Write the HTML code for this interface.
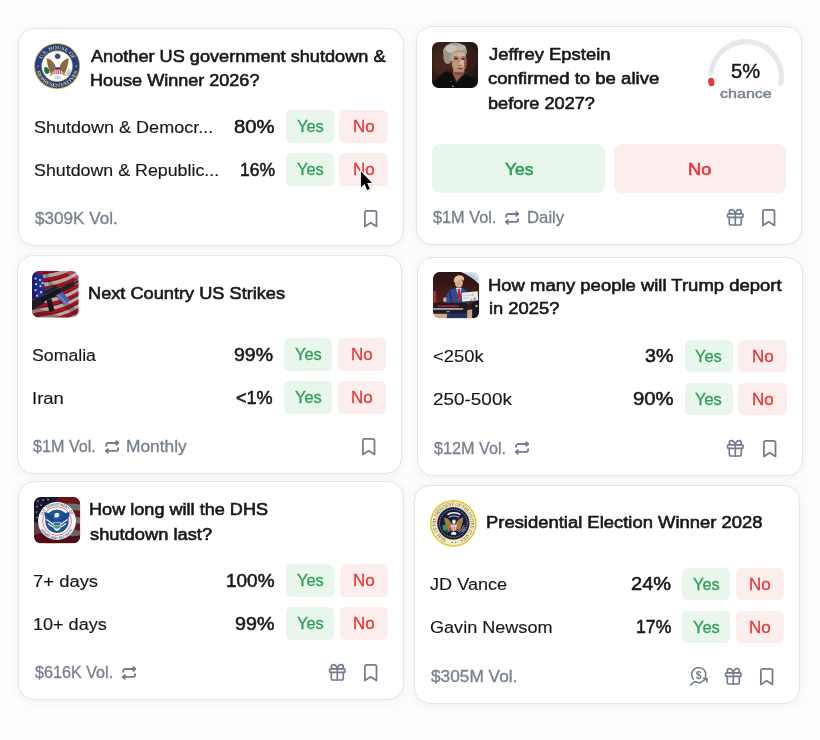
<!DOCTYPE html>
<html lang="en"><head><meta charset="utf-8"><title>Markets</title>
<style>
html,body{margin:0;padding:0}
body{width:820px;height:740px;background:#fdfdfd;position:relative;overflow:hidden;font-family:"Liberation Sans", sans-serif;}
.tile{position:absolute;background:#fcfcfc;overflow:hidden}
.card{position:absolute;box-sizing:border-box;width:385px;height:218px;background:#fff;border:1px solid #e3e6e9;border-radius:16px;box-shadow:0 1px 7px 1px rgba(16,24,40,.045)}
.btn{position:absolute;border-radius:5.500px}
.by{background:#e8f6ec}
.bn{background:#fdeeee}
.big{border-radius:8px}
.ic{position:absolute;overflow:visible}
.t{position:absolute;display:block;transform-origin:0 0;white-space:nowrap;line-height:20px;font-family:"Liberation Sans", sans-serif;}
.title{font-size:17.3px;font-weight:400;color:#17181c;-webkit-text-stroke:0.62px #17181c;}
.label{font-size:17.3px;font-weight:400;color:#17181c;-webkit-text-stroke:0.15px #17181c;}
.pct{font-size:18.6px;font-weight:400;color:#17181c;-webkit-text-stroke:0.55px #17181c;}
.foot{font-size:15.7px;font-weight:400;color:#77808d;-webkit-text-stroke:0.3px #77808d;}
.yes{font-size:15.9px;font-weight:400;color:#2f9e57;-webkit-text-stroke:0.3px #2f9e57;}
.no{font-size:15.7px;font-weight:400;color:#e23939;-webkit-text-stroke:0.3px #e23939;}
.byes{font-size:16.8px;font-weight:400;color:#2f9e57;-webkit-text-stroke:0.6px #2f9e57;}
.bno{font-size:16.8px;font-weight:400;color:#e23939;-webkit-text-stroke:0.6px #e23939;}
.g5{font-size:19.8px;font-weight:400;color:#17181c;-webkit-text-stroke:0.45px #17181c;}
.chance{font-size:13.6px;font-weight:400;color:#77808d;-webkit-text-stroke:0.45px #77808d;}

</style></head><body>

<div class="tile" style="left:12px;top:21px;width:796px;height:688px">
<div class="card" style="left:6px;top:7px;width:386px;height:218px"></div>
<div class="card" style="left:404px;top:5px;width:386px;height:219px"></div>
<div class="card" style="left:5px;top:234px;width:385px;height:219px"></div>
<div class="card" style="left:405px;top:236px;width:386px;height:219px"></div>
<div class="card" style="left:6px;top:460px;width:386px;height:219px"></div>
<div class="card" style="left:402px;top:464px;width:386px;height:219px"></div>
</div>
<div class="btn by" style="left:285.95px;top:110.30px;width:48.20px;height:32.50px"></div>
<div class="btn bn" style="left:339.25px;top:110.30px;width:48.70px;height:32.50px"></div>
<div class="btn by" style="left:285.95px;top:153.00px;width:48.20px;height:32.50px"></div>
<div class="btn bn" style="left:339.25px;top:153.00px;width:48.70px;height:32.50px"></div>
<div class="btn by" style="left:284.20px;top:338.30px;width:48.20px;height:32.50px"></div>
<div class="btn bn" style="left:337.50px;top:338.30px;width:48.70px;height:32.50px"></div>
<div class="btn by" style="left:284.20px;top:381.00px;width:48.20px;height:32.50px"></div>
<div class="btn bn" style="left:337.50px;top:381.00px;width:48.70px;height:32.50px"></div>
<div class="btn by" style="left:684.70px;top:339.80px;width:48.20px;height:32.50px"></div>
<div class="btn bn" style="left:738.00px;top:339.80px;width:48.70px;height:32.50px"></div>
<div class="btn by" style="left:684.70px;top:382.50px;width:48.20px;height:32.50px"></div>
<div class="btn bn" style="left:738.00px;top:382.50px;width:48.70px;height:32.50px"></div>
<div class="btn by" style="left:286.20px;top:564.30px;width:48.20px;height:32.50px"></div>
<div class="btn bn" style="left:339.50px;top:564.30px;width:48.70px;height:32.50px"></div>
<div class="btn by" style="left:286.20px;top:607.00px;width:48.20px;height:32.50px"></div>
<div class="btn bn" style="left:339.50px;top:607.00px;width:48.70px;height:32.50px"></div>
<div class="btn by" style="left:682.20px;top:567.80px;width:48.20px;height:32.50px"></div>
<div class="btn bn" style="left:735.50px;top:567.80px;width:48.70px;height:32.50px"></div>
<div class="btn by" style="left:682.20px;top:610.50px;width:48.20px;height:32.50px"></div>
<div class="btn bn" style="left:735.50px;top:610.50px;width:48.70px;height:32.50px"></div>
<div class="btn by big" style="left:432px;top:144px;width:172.5px;height:49.2px"></div>
<div class="btn bn big" style="left:614px;top:144px;width:172.2px;height:49.2px"></div>
<svg class="ic" style="left:33.9px;top:42.9px" width="46.2" height="46.2" viewBox="0 0 46 46"><defs><filter id="bl1" x="-5%" y="-5%" width="110%" height="110%"><feGaussianBlur stdDeviation="0.3"/></filter></defs><g filter="url(#bl1)"><circle cx="23" cy="23" r="23" fill="#dcc04a"/><circle cx="23" cy="23" r="22.1" fill="#22408a"/><circle cx="23" cy="23" r="15.6" fill="#d9c25a"/><circle cx="23" cy="23" r="14.9" fill="#fdfcf8"/><path id="hs_t" d="M7.33 16.67A16.9 16.9 0 0 1 38.67 16.67" fill="none"/><path id="hs_b" d="M2.56 27.35A20.9 20.9 0 0 0 43.44 27.35" fill="none"/><text font-family="Liberation Serif, serif" font-weight="700" font-size="5" fill="#dccb78"><textPath href="#hs_t" startOffset="50%" text-anchor="middle" textLength="39" lengthAdjust="spacingAndGlyphs">U.S. HOUSE OF</textPath></text><text font-family="Liberation Serif, serif" font-weight="700" font-size="5" fill="#dccb78"><textPath href="#hs_b" startOffset="50%" text-anchor="middle" textLength="55" lengthAdjust="spacingAndGlyphs">REPRESENTATIVES</textPath></text><circle cx="3.900" cy="23" r="0.7" fill="#ecd97a"/><circle cx="42.100" cy="23" r="0.7" fill="#ecd97a"/><path d="M21.40 22.60C18.60 17.60 14.60 15.10 12.60 15.60C13.10 20.60 14.10 25.60 17.10 31.10C18.60 29.60 20.10 27.60 21.10 26.60Z" fill="#8a6b3e"/><path d="M25.80 22.60C28.60 17.60 32.60 15.10 34.60 15.60C34.10 20.60 33.10 25.60 30.10 31.10C28.60 29.60 27.10 27.60 26.10 26.60Z" fill="#8a6b3e"/><path d="M20.60 29.60L15.60 32.60M26.60 29.60L31.60 32.60" stroke="#b08d4a" stroke-width="1.10" fill="none"/><ellipse cx="23.80" cy="20.40" rx="2.00" ry="2.60" fill="#f4f1ea"/><circle cx="23.500" cy="13.300" r="3.100" fill="#d9c25a"/><circle cx="23.500" cy="13.300" r="2.500" fill="#2b4a9a"/><path d="M20.30 24.20h6.60v4.07q0 2.59 -3.30 3.33q-3.30 -0.74 -3.30 -3.33z" fill="#f6d5da"/><rect x="20.30" y="26.27" width="0.94" height="4.59" fill="#d8485a"/><rect x="22.19" y="26.27" width="0.94" height="4.59" fill="#d8485a"/><rect x="24.07" y="26.27" width="0.94" height="4.59" fill="#d8485a"/><rect x="25.96" y="26.27" width="0.94" height="4.59" fill="#d8485a"/><rect x="20.30" y="24.20" width="6.60" height="2.22" fill="#2a3f8f"/><path d="M10.200 24.500c1.500-1 3-.5 3.600 1 1 .2 1.600 1.200 1.200 2.400.6 1 .2 2.200-.9 2.600-1.500.8-3-.2-3.200-1.500-1-.8-1.200-2-.4-2.800-.6-.6-.6-1.300-.3-1.700z" fill="#1f6e3d"/><path d="M31.500 31.500l4-6M32.500 32.200l4.200-5.200M33.600 32.500l3.200-3.600" stroke="#9aa1ab" stroke-width="0.9" fill="none"/><ellipse cx="23.600" cy="34.300" rx="3.300" ry="1.700" fill="#c5d6ee"/></g></svg>
<svg class="ic" style="left:432px;top:42.1px" width="46" height="46" viewBox="0 0 46 46"><defs><filter id="bl2" x="-5%" y="-5%" width="110%" height="110%"><feGaussianBlur stdDeviation="0.75"/></filter><radialGradient id="pg2" cx="35%" cy="40%" r="85%"><stop offset="0" stop-color="#472a1e"/><stop offset=".6" stop-color="#2e1b14"/><stop offset="1" stop-color="#1b100c"/></radialGradient><clipPath id="cp2"><rect x="0" y="0" width="46" height="46" rx="6.500"/></clipPath></defs><g clip-path="url(#cp2)"><g filter="url(#bl2)"><rect x="-2" y="-2" width="50" height="50" fill="url(#pg2)"/><ellipse cx="8" cy="22" rx="7" ry="10" fill="#4a2a1e" opacity=".6"/><ellipse cx="40" cy="16" rx="6" ry="9" fill="#3d2219" opacity=".6"/><path d="M-2 48V43L11 31C15 28.500 19 29.500 21 33L24.500 40.500L31.500 32.500C37 33 43 35.500 48 39V48Z" fill="#0f0b0a"/><path d="M21 27L33 29L31.500 33L24.500 40.500L21 33Z" fill="#94654f"/><ellipse cx="23" cy="9.500" rx="12" ry="9" fill="#a39a91"/><ellipse cx="15.800" cy="14.500" rx="4.500" ry="7.500" fill="#9d948b"/><ellipse cx="19.500" cy="6.800" rx="6" ry="4" fill="#c9c2b8"/><ellipse cx="29" cy="5.500" rx="5" ry="3" fill="#bdb5ab"/><path d="M19.500 15C19.500 10 23 8.500 27.500 9C32 9.500 34.500 12.500 34.200 17C34 21 34 23.500 33 26.500C32 30 29.500 32 26.500 31.500C23 31 20.500 27.500 19.800 22.500Z" fill="#bb8b73"/><ellipse cx="27.500" cy="12.800" rx="5.500" ry="2.800" fill="#d8ae94"/><ellipse cx="30" cy="21.500" rx="2.600" ry="3.800" fill="#dcb49b"/><ellipse cx="23.500" cy="22" rx="2.500" ry="3.500" fill="#c4957c"/><ellipse cx="33.300" cy="21" rx="1.500" ry="6" fill="#8a5d49" opacity=".8"/><path d="M18.500 19C17.500 14 19 10 23.500 8.500C22 11 21.500 14 21.200 18Z" fill="#b0a79d"/><ellipse cx="24" cy="16.500" rx="2.100" ry="0.9" fill="#3b2a22"/><ellipse cx="31" cy="16.800" rx="1.800" ry="0.85" fill="#3b2a22"/><path d="M21.800 14.800c1.500-.8 3-.8 4.500-.2M29.300 15c1.200-.5 2.400-.4 3.500.2" stroke="#6b5a4e" stroke-width="0.7" fill="none"/><ellipse cx="28.300" cy="26.600" rx="2.700" ry="0.65" fill="#6a3e33"/><ellipse cx="29" cy="23.300" rx="1.500" ry="0.6" fill="#8a5a48" opacity=".8"/><ellipse cx="27" cy="31.300" rx="5" ry="1.600" fill="#6f4838" opacity=".8"/><path d="M20.500 32.500l4 8 3-3.500M31.500 33L27.500 37" stroke="#2b2220" stroke-width="1.300" fill="none"/><circle cx="20.800" cy="44.300" r="0.8" fill="#cfc9bf"/><circle cx="18.900" cy="39.300" r="0.55" fill="#8fae8a"/></g></g></svg>
<svg class="ic" style="left:32px;top:271px" width="46.5" height="46.5" viewBox="0 0 46 46"><defs><filter id="bl3" x="-5%" y="-5%" width="110%" height="110%"><feGaussianBlur stdDeviation="0.6"/></filter><clipPath id="cp3"><rect x="0" y="0" width="46" height="46" rx="6.500"/></clipPath></defs><g clip-path="url(#cp3)"><g filter="url(#bl3)"><rect x="-2" y="-2" width="50" height="50" fill="#d2cac8"/><path d="M-2 2.0C10 -3.0 24 1.0 48 -14.0v4.400C24 5.4 10 1.4 -2 6.4Z" fill="#bd1829"/><path d="M-2 5.4C10 0.4 24 4.4 48 -10.6v1.200C24 5.6 10 1.6 -2 6.6Z" fill="#5a0d16" opacity=".55"/><path d="M-2 10.2C10 5.2 24 9.2 48 -5.8v4.400C24 13.6 10 9.6 -2 14.6Z" fill="#bd1829"/><path d="M-2 13.6C10 8.6 24 12.6 48 -2.4v1.200C24 13.8 10 9.8 -2 14.8Z" fill="#5a0d16" opacity=".55"/><path d="M-2 18.4C10 13.4 24 17.4 48 2.4v4.400C24 21.8 10 17.8 -2 22.8Z" fill="#bd1829"/><path d="M-2 21.8C10 16.8 24 20.8 48 5.8v1.200C24 22.0 10 18.0 -2 23.0Z" fill="#5a0d16" opacity=".55"/><path d="M-2 26.6C10 21.6 24 25.6 48 10.6v4.400C24 30.0 10 26.0 -2 31.0Z" fill="#bd1829"/><path d="M-2 30.0C10 25.0 24 29.0 48 14.0v1.200C24 30.2 10 26.2 -2 31.2Z" fill="#5a0d16" opacity=".55"/><path d="M-2 34.8C10 29.8 24 33.8 48 18.8v4.400C24 38.2 10 34.2 -2 39.2Z" fill="#bd1829"/><path d="M-2 38.2C10 33.2 24 37.2 48 22.2v1.200C24 38.4 10 34.4 -2 39.4Z" fill="#5a0d16" opacity=".55"/><path d="M-2 43.0C10 38.0 24 42.0 48 27.0v4.400C24 46.4 10 42.4 -2 47.4Z" fill="#bd1829"/><path d="M-2 46.4C10 41.4 24 45.4 48 30.4v1.200C24 46.6 10 42.6 -2 47.6Z" fill="#5a0d16" opacity=".55"/><path d="M-2 51.2C10 46.2 24 50.2 48 35.2v4.400C24 54.6 10 50.6 -2 55.6Z" fill="#bd1829"/><path d="M-2 54.6C10 49.6 24 53.6 48 38.6v1.200C24 54.8 10 50.8 -2 55.8Z" fill="#5a0d16" opacity=".55"/><path d="M-2 59.4C10 54.4 24 58.4 48 43.4v4.400C24 62.8 10 58.8 -2 63.8Z" fill="#bd1829"/><path d="M-2 62.8C10 57.8 24 61.8 48 46.8v1.200C24 63.0 10 59.0 -2 64.0Z" fill="#5a0d16" opacity=".55"/><path d="M14 -2C18 10 30 30 48 40V48C28 36 16 16 10 -2Z" fill="#3a0d12" opacity=".28"/><path d="M-2 34C10 38 24 44 40 48H-2Z" fill="#5a1016" opacity=".35"/><path d="M30 -2C36 4 42 8 48 10V-2Z" fill="#fff" opacity=".25"/><path d="M-2 2C3 .5 8 2 11 4.500L13.500 25.500C9 27 4 28 -2 27.500Z" fill="#2436a6"/><path d="M-2 2C1 1.500 3 2 4 3L5 27.500C3 28 0 28 -2 27.500Z" fill="#141d6a" opacity=".6"/><circle cx="3.5" cy="7.5" r="1.150" fill="#dfe6fb"/><circle cx="8" cy="9" r="1.150" fill="#dfe6fb"/><circle cx="4" cy="13" r="1.150" fill="#dfe6fb"/><circle cx="8.5" cy="15" r="1.150" fill="#dfe6fb"/><circle cx="3.5" cy="19" r="1.150" fill="#dfe6fb"/><circle cx="9" cy="21" r="1.150" fill="#dfe6fb"/><circle cx="5" cy="24.5" r="1.150" fill="#dfe6fb"/><circle cx="10.5" cy="12" r="1.150" fill="#dfe6fb"/><rect x="-2" y="-2" width="50" height="50" fill="#1a0508" opacity=".16"/><g transform="translate(23 22) rotate(-27) scale(1.13) translate(-23 -21.500)"><rect x="-6" y="18.500" width="17" height="6.500" rx="1.200" fill="#1b1c22"/><rect x="9" y="18.800" width="20" height="5" rx="1" fill="#17181d"/><rect x="28" y="19.300" width="14" height="4" rx="1.500" fill="#202228"/><rect x="40" y="20.300" width="14" height="1.900" fill="#2a2c33"/><rect x="14" y="15.300" width="13" height="3.600" rx="1.300" fill="#22242b"/><rect x="17" y="14.300" width="7" height="1.600" rx=".8" fill="#3a3d46"/><path d="M13.500 23.500l-2.600 10.500 4.600.8 2.400-10.800z" fill="#16171b"/><path d="M22.500 23.500l3.200 10.500 6-1.100-2.800-9.900z" fill="#4a5cad"/><path d="M23.500 24l3 9.500 2-.4-2.800-9.300z" fill="#6f80c8"/></g></g></g></svg>
<svg class="ic" style="left:432.7px;top:272.4px" width="46.2" height="46.4" viewBox="0 0 46 46"><defs><filter id="bl4" x="-5%" y="-5%" width="110%" height="110%"><feGaussianBlur stdDeviation="0.5"/></filter><linearGradient id="bg4" x1="0" y1="0" x2="0" y2="1"><stop offset="0" stop-color="#2b1413"/><stop offset="1" stop-color="#4a211f"/></linearGradient><clipPath id="cp4"><rect x="0" y="0" width="46" height="46" rx="6.500"/></clipPath></defs><g clip-path="url(#cp4)"><g filter="url(#bl4)"><rect width="46" height="46" fill="#3a1c1a"/><path d="M0 0H46V30H0Z" fill="url(#bg4)"/><path d="M28 0H46V12C41 7 35 3 28 0Z" fill="#d3e0ea"/><path d="M36 2c3 1 6 3 8 6" stroke="#9fb6c8" stroke-width="1.500" fill="none" opacity=".7"/><rect x="0" y="19" width="3.200" height="13" fill="#b3262c"/><path d="M12 31C12.500 22 15 17.500 21 16L30 16C34 17.500 35.500 22 35.500 31V46H14Z" fill="#2f4a8e"/><path d="M16.500 18l2 13" stroke="#1c2c58" stroke-width="1.200" fill="none"/><path d="M23 15.500h5.500l-1.500 6h-2.500z" fill="#eef0f3"/><path d="M24.800 16.500h2l.7 11-1.700 2-1.700-2z" fill="#c9222e"/><ellipse cx="25.800" cy="10.800" rx="4" ry="4.800" fill="#dba98b"/><path d="M20.800 9.500C20.500 5 23.500 3 27 3.200C30.200 3.400 31.500 6 30.800 8.500C28.500 6.800 24.500 6.800 22.500 10.500Z" fill="#e0c39a"/><ellipse cx="11.800" cy="27.500" rx="1.800" ry="2.400" fill="#d9a789"/><path d="M28.500 20.500L44.500 19l.6 10-16 1.500z" fill="#e9edf1"/><path d="M30 23h8M30 25.500h6" stroke="#c2cbd6" stroke-width="1"/><circle cx="39.500" cy="22.500" r="1.200" fill="#e9b65a"/><circle cx="41.500" cy="26.500" r="1.300" fill="#6f9bd1"/><circle cx="38" cy="27.500" r="1" fill="#e7a24a"/><path d="M28.500 29.500l16-1.500v1.600l-16 1.700z" fill="#3a3a3a"/><path d="M38 46V34c1-3 3-5 8-6v18z" fill="#17131a"/><circle cx="43.300" cy="33.800" r="1.300" fill="#caa05a"/><path d="M0 30.500H33.500L35.500 33V41.500H0Z" fill="#231a22"/><rect x="4.500" y="33.300" width="21" height="1.200" fill="#d62c4e" opacity=".9"/><rect x="0" y="35.900" width="30" height="1.600" fill="#d9d6da" opacity=".85"/><rect x="13.500" y="39" width="3" height="0.9" fill="#cfcfd4"/><path d="M0 41.500H14V46H0Z" fill="#c8a98c"/><path d="M14 41.500H38V46H14Z" fill="#26305e"/><path d="M34 38l5-1v9h-5z" fill="#c9a88a"/></g></g></svg>
<svg class="ic" style="left:33.9px;top:496.9px" width="46.2" height="46.2" viewBox="0 0 46 46"><defs><filter id="bl5" x="-5%" y="-5%" width="110%" height="110%"><feGaussianBlur stdDeviation="0.45"/></filter><clipPath id="cp5"><rect x="0" y="0" width="46" height="46" rx="6.500"/></clipPath></defs><g clip-path="url(#cp5)"><g filter="url(#bl5)"><rect width="46" height="46" fill="#7d1a22"/><path d="M12 3C24 0 36 -1 46 1V7.5C36 5.5 24 6.5 12 9.5Z" fill="#8b1c25"/><path d="M12 9.5C24 6.5 36 5.5 46 7.5V14.0C36 12.0 24 13.0 12 16.0Z" fill="#9b9896"/><path d="M12 16C24 13 36 12 46 14V20.5C36 18.5 24 19.5 12 22.5Z" fill="#8b1c25"/><path d="M12 22.5C24 19.5 36 18.5 46 20.5V27.0C36 25.0 24 26.0 12 29.0Z" fill="#a3a09e"/><path d="M12 29C24 26 36 25 46 27V33.5C36 31.5 24 32.5 12 35.5Z" fill="#8b1c25"/><path d="M12 35.5C24 32.5 36 31.5 46 33.5V40.0C36 38.0 24 39.0 12 42.0Z" fill="#8f8a88"/><path d="M12 42C24 39 36 38 46 40V46.5C36 44.5 24 45.5 12 48.5Z" fill="#7a1820"/><path d="M0 0H24C20 6 18 14 17 25H0Z" fill="#1b1e3c"/><circle cx="4" cy="4" r="0.9" fill="#b9bccb"/><circle cx="9" cy="3" r="0.9" fill="#b9bccb"/><circle cx="14" cy="2.5" r="0.9" fill="#b9bccb"/><circle cx="3" cy="9.5" r="0.9" fill="#b9bccb"/><circle cx="7" cy="8" r="0.9" fill="#b9bccb"/><circle cx="2.5" cy="15" r="0.9" fill="#b9bccb"/><circle cx="3" cy="20.5" r="0.9" fill="#b9bccb"/><path d="M0 33C8 37 20 44 46 38V46H0Z" fill="#6e141c"/><path d="M0 25C5 27 8 30 10 35L0 38Z" fill="#8d8a8c" opacity=".55"/><rect x="-2" y="-2" width="50" height="50" fill="#14080c" opacity=".3"/><circle cx="22.9" cy="23.9" r="18.900" fill="#f4f5f7"/><circle cx="22.9" cy="23.9" r="14.300" fill="none" stroke="#d9606c" stroke-width="0.8"/><path id="dh_t" d="M8.43 18.63A15.4 15.4 0 0 1 37.37 18.63" fill="none"/><path id="dh_b" d="M5.80 30.12A18.2 18.2 0 0 0 40.00 30.12" fill="none"/><text font-family="Liberation Sans, sans-serif" font-weight="700" font-size="3.600" fill="#5b6f96"><textPath href="#dh_t" startOffset="50%" text-anchor="middle" textLength="36" lengthAdjust="spacingAndGlyphs">U.S. DEPARTMENT OF</textPath></text><text font-family="Liberation Sans, sans-serif" font-weight="700" font-size="3.600" fill="#5b6f96"><textPath href="#dh_b" startOffset="50%" text-anchor="middle" textLength="39" lengthAdjust="spacingAndGlyphs">HOMELAND SECURITY</textPath></text><circle cx="22.9" cy="24.2" r="11.600" fill="#1f5497"/><path d="M10.399999999999999 14.899999999999999C14.899999999999999 15.399999999999999 17.9 17.9 19.4 21.9L15.899999999999999 28.9C12.399999999999999 24.9 10.399999999999999 19.9 10.399999999999999 14.899999999999999Z" fill="#1a4a8c"/><path d="M35.4 14.899999999999999C30.9 15.399999999999999 27.9 17.9 26.4 21.9L29.9 28.9C33.4 24.9 35.4 19.9 35.4 14.899999999999999Z" fill="#1a4a8c"/><path d="M12.399999999999999 22.4L19.4 27.4M13.899999999999999 26.4L18.9 29.9M33.4 22.4L26.4 27.4M31.9 26.4L26.9 29.9" stroke="#f1f4f8" stroke-width="1.300" fill="none"/><path d="M20.7 16.4c2.500-1.500 4.500-.5 4.500 1.500 0 1.500-1 2.500-2.500 2.500h-2.500z" fill="#f4f6f9"/><path d="M19.299999999999997 25.099999999999998h7.200v4.500q0 3-3.600 4.300q-3.600-1.300-3.600-4.300z" fill="#f3f6f4"/><path d="M19.9 28.4h6v1.500q-1 1.500-3 2q-2-.5-3-2z" fill="#4f9a57"/><rect x="19.9" y="25.7" width="6" height="2.200" fill="#2c69ad"/></g></g></svg>
<svg class="ic" style="left:429.9px;top:500.1px" width="46.7" height="46.7" viewBox="0 0 46 46"><defs><filter id="bl6" x="-5%" y="-5%" width="110%" height="110%"><feGaussianBlur stdDeviation="0.3"/></filter></defs><g filter="url(#bl6)"><circle cx="23" cy="23" r="23" fill="#e6c530"/><circle cx="23" cy="23" r="21.500" fill="#f4edc6"/><circle cx="23" cy="23" r="16.300" fill="#e0c85a"/><circle cx="23" cy="23" r="15.800" fill="#171c40"/><circle cx="23" cy="23" r="13.700" fill="none" stroke="#e8e9f0" stroke-width="0.75" stroke-dasharray="0.8 1.000"/><path id="ps_t" d="M17.12 39.16A17.2 17.2 0 1 1 28.88 39.16" fill="none"/><text font-family="Liberation Serif, serif" font-weight="400" font-size="4.700" fill="#4a4956"><textPath href="#ps_t" startOffset="50%" text-anchor="middle" textLength="93" lengthAdjust="spacingAndGlyphs">SEAL OF THE PRESIDENT OF THE UNITED STATES</textPath></text><circle cx="21.800" cy="41.800" r="0.55" fill="#3b3a48"/><circle cx="25.400" cy="41.800" r="0.55" fill="#3b3a48"/><path d="M17.200 14.500C20 11.800 27 11.800 30 14.500" stroke="#f1f1f3" stroke-width="1.500" fill="none"/><path d="M18.500 17C21 15.200 26 15.200 28.500 17" stroke="#b9bcc8" stroke-width="1.000" fill="none"/><path d="M21.51 23.34C19.10 19.04 15.66 16.89 13.94 17.32C14.37 21.62 15.23 25.92 17.81 30.65C19.10 29.36 20.39 27.64 21.25 26.78Z" fill="#a07d3a"/><path d="M25.29 23.34C27.70 19.04 31.14 16.89 32.86 17.32C32.43 21.62 31.57 25.92 28.99 30.65C27.70 29.36 26.41 27.64 25.55 26.78Z" fill="#a07d3a"/><path d="M20.82 29.36L16.52 31.94M25.98 29.36L30.28 31.94" stroke="#b08d4a" stroke-width="0.95" fill="none"/><ellipse cx="23.57" cy="21.45" rx="1.72" ry="2.24" fill="#f4f1ea"/><path d="M20.50 24.30h5.80v3.63q0 2.31 -2.90 2.97q-2.90 -0.66 -2.90 -2.97z" fill="#f6d3da"/><rect x="20.50" y="26.15" width="0.83" height="4.09" fill="#e0586e"/><rect x="22.16" y="26.15" width="0.83" height="4.09" fill="#e0586e"/><rect x="23.81" y="26.15" width="0.83" height="4.09" fill="#e0586e"/><rect x="25.47" y="26.15" width="0.83" height="4.09" fill="#e0586e"/><rect x="20.50" y="24.30" width="5.80" height="1.98" fill="#e9c7cf"/><path d="M12.500 25c1.400-1 2.800-.5 3.300.8.900.2 1.500 1.100 1.100 2.200.5 1 .2 2-.8 2.400-1.400.7-2.800-.2-3-1.400-.9-.7-1.100-1.800-.4-2.600-.5-.5-.5-1-.2-1.400z" fill="#2f9a46"/><path d="M30 30.500l3.800-5.600M31 31.200l4-4.800M32 31.600l3-3.400" stroke="#9a9fb0" stroke-width="0.9" fill="none"/><ellipse cx="23.400" cy="32.900" rx="2.700" ry="1.600" fill="#f0eef0"/></g></svg>
<svg class="ic" style="left:700px;top:30px" width="100" height="70" viewBox="700 30 100 70" fill="none" stroke-linecap="round"><path d="M711.11 73.05A35.2 35.2 0 1 1 780.71 83.26" stroke="#e6e8eb" stroke-width="5.2"/><path d="M711.50 83.33A35.2 35.2 0 0 1 711.12 80.77" stroke="#e23c3f" stroke-width="6"/></svg>
<svg class="ic" style="left:363.95px;top:210.00px" width="13.4" height="17.3" viewBox="0 0 13.4 17.3"><path d="M0.88 16.43V2.67a1.8 1.8 0 0 1 1.8 -1.8H10.72a1.8 1.8 0 0 1 1.8 1.8V16.43L6.70 12.83Z" fill="none" stroke="#727c8b" stroke-width="1.75" stroke-linejoin="round" stroke-linecap="round"/></svg>
<svg class="ic" style="left:762.20px;top:209.00px" width="13.4" height="17.3" viewBox="0 0 13.4 17.3"><path d="M0.88 16.43V2.67a1.8 1.8 0 0 1 1.8 -1.8H10.72a1.8 1.8 0 0 1 1.8 1.8V16.43L6.70 12.83Z" fill="none" stroke="#727c8b" stroke-width="1.75" stroke-linejoin="round" stroke-linecap="round"/></svg>
<svg class="ic" style="left:362.20px;top:438.00px" width="13.4" height="17.3" viewBox="0 0 13.4 17.3"><path d="M0.88 16.43V2.67a1.8 1.8 0 0 1 1.8 -1.8H10.72a1.8 1.8 0 0 1 1.8 1.8V16.43L6.70 12.83Z" fill="none" stroke="#727c8b" stroke-width="1.75" stroke-linejoin="round" stroke-linecap="round"/></svg>
<svg class="ic" style="left:762.70px;top:439.50px" width="13.4" height="17.3" viewBox="0 0 13.4 17.3"><path d="M0.88 16.43V2.67a1.8 1.8 0 0 1 1.8 -1.8H10.72a1.8 1.8 0 0 1 1.8 1.8V16.43L6.70 12.83Z" fill="none" stroke="#727c8b" stroke-width="1.75" stroke-linejoin="round" stroke-linecap="round"/></svg>
<svg class="ic" style="left:364.20px;top:664.00px" width="13.4" height="17.3" viewBox="0 0 13.4 17.3"><path d="M0.88 16.43V2.67a1.8 1.8 0 0 1 1.8 -1.8H10.72a1.8 1.8 0 0 1 1.8 1.8V16.43L6.70 12.83Z" fill="none" stroke="#727c8b" stroke-width="1.75" stroke-linejoin="round" stroke-linecap="round"/></svg>
<svg class="ic" style="left:760.20px;top:667.50px" width="13.4" height="17.3" viewBox="0 0 13.4 17.3"><path d="M0.88 16.43V2.67a1.8 1.8 0 0 1 1.8 -1.8H10.72a1.8 1.8 0 0 1 1.8 1.8V16.43L6.70 12.83Z" fill="none" stroke="#727c8b" stroke-width="1.75" stroke-linejoin="round" stroke-linecap="round"/></svg>
<svg class="ic" style="left:724.88px;top:207.18px" width="20.64" height="20.64" viewBox="0 0 24 24" fill="none" stroke="#727c8b" stroke-width="1.9" stroke-linecap="round" stroke-linejoin="round"><rect x="3" y="8" width="18" height="4" rx="1"/><path d="M12 8v13"/><path d="M19 12v7a2 2 0 0 1-2 2H7a2 2 0 0 1-2-2v-7"/><path d="M7.5 8a2.5 2.5 0 0 1 0-5A4.8 8 0 0 1 12 8a4.8 8 0 0 1 4.500-5 2.500 2.500 0 0 1 0 5"/></svg>
<svg class="ic" style="left:725.38px;top:437.68px" width="20.64" height="20.64" viewBox="0 0 24 24" fill="none" stroke="#727c8b" stroke-width="1.9" stroke-linecap="round" stroke-linejoin="round"><rect x="3" y="8" width="18" height="4" rx="1"/><path d="M12 8v13"/><path d="M19 12v7a2 2 0 0 1-2 2H7a2 2 0 0 1-2-2v-7"/><path d="M7.5 8a2.5 2.5 0 0 1 0-5A4.8 8 0 0 1 12 8a4.8 8 0 0 1 4.500-5 2.500 2.500 0 0 1 0 5"/></svg>
<svg class="ic" style="left:326.88px;top:662.18px" width="20.64" height="20.64" viewBox="0 0 24 24" fill="none" stroke="#727c8b" stroke-width="1.9" stroke-linecap="round" stroke-linejoin="round"><rect x="3" y="8" width="18" height="4" rx="1"/><path d="M12 8v13"/><path d="M19 12v7a2 2 0 0 1-2 2H7a2 2 0 0 1-2-2v-7"/><path d="M7.5 8a2.5 2.5 0 0 1 0-5A4.8 8 0 0 1 12 8a4.8 8 0 0 1 4.500-5 2.500 2.500 0 0 1 0 5"/></svg>
<svg class="ic" style="left:722.88px;top:665.68px" width="20.64" height="20.64" viewBox="0 0 24 24" fill="none" stroke="#727c8b" stroke-width="1.9" stroke-linecap="round" stroke-linejoin="round"><rect x="3" y="8" width="18" height="4" rx="1"/><path d="M12 8v13"/><path d="M19 12v7a2 2 0 0 1-2 2H7a2 2 0 0 1-2-2v-7"/><path d="M7.5 8a2.5 2.5 0 0 1 0-5A4.8 8 0 0 1 12 8a4.8 8 0 0 1 4.500-5 2.500 2.500 0 0 1 0 5"/></svg>
<svg class="ic" style="left:689.30px;top:666.40px" width="20" height="21" viewBox="-1 -1 20 21" fill="none" stroke="#727c8b" stroke-width="1.6" stroke-linecap="round" stroke-linejoin="round"><path d="M3.400 12.100A7 7 0 1 1 15.400 9.600"/><path d="M0.700 17.900l4-3.400 5.200 1.400 6.600-4.300"/><path d="M13.400 11.300h3.600v3.600"/><text x="8.700" y="11.900" text-anchor="middle" font-family="Liberation Sans, sans-serif" font-size="10.5" font-weight="700" fill="#727c8b" stroke="none">$</text></svg>
<svg class="ic" style="left:503.90px;top:209.85px" width="16.2" height="15.8" viewBox="-1 -1 16.2 15.8" fill="none" stroke="#727c8b" stroke-width="1.85" stroke-linecap="round" stroke-linejoin="round"><path d="M11.3 1.050L13.2 2.950L11.3 4.850"/><path d="M13.2 2.950H3.300A2.200 2.200 0 0 0 1.100 5.150V5.800"/><path d="M2.850 9.050L0.950 10.950L2.850 12.850"/><path d="M0.950 10.950H10.900A2.200 2.200 0 0 0 13.100 8.750V8.100"/></svg>
<svg class="ic" style="left:103.95px;top:438.85px" width="16.2" height="15.8" viewBox="-1 -1 16.2 15.8" fill="none" stroke="#727c8b" stroke-width="1.85" stroke-linecap="round" stroke-linejoin="round"><path d="M11.3 1.050L13.2 2.950L11.3 4.850"/><path d="M13.2 2.950H3.300A2.200 2.200 0 0 0 1.100 5.150V5.800"/><path d="M2.850 9.050L0.950 10.950L2.850 12.850"/><path d="M0.950 10.950H10.900A2.200 2.200 0 0 0 13.100 8.750V8.100"/></svg>
<svg class="ic" style="left:513.95px;top:440.35px" width="16.2" height="15.8" viewBox="-1 -1 16.2 15.8" fill="none" stroke="#727c8b" stroke-width="1.85" stroke-linecap="round" stroke-linejoin="round"><path d="M11.3 1.050L13.2 2.950L11.3 4.850"/><path d="M13.2 2.950H3.300A2.200 2.200 0 0 0 1.100 5.150V5.800"/><path d="M2.850 9.050L0.950 10.950L2.850 12.850"/><path d="M0.950 10.950H10.900A2.200 2.200 0 0 0 13.100 8.750V8.100"/></svg>
<svg class="ic" style="left:120.70px;top:664.85px" width="16.2" height="15.8" viewBox="-1 -1 16.2 15.8" fill="none" stroke="#727c8b" stroke-width="1.85" stroke-linecap="round" stroke-linejoin="round"><path d="M11.3 1.050L13.2 2.950L11.3 4.850"/><path d="M13.2 2.950H3.300A2.200 2.200 0 0 0 1.100 5.150V5.800"/><path d="M2.850 9.050L0.950 10.950L2.850 12.850"/><path d="M0.950 10.950H10.900A2.200 2.200 0 0 0 13.100 8.750V8.100"/></svg>
<span class="t title" style="left:91.01px;top:46.00px;transform:scaleX(1.0499)">Another US government shutdown &amp;</span>
<span class="t title" style="left:89.71px;top:70.00px;transform:scaleX(1.0435)">House Winner 2026?</span>
<span class="t label" style="left:33.82px;top:117.00px;transform:scaleX(1.0421)">Shutdown &amp; Democr...</span>
<span class="t pct" style="left:234.06px;top:117.00px;transform:scaleX(1.0897)">80%</span>
<span class="t label" style="left:33.83px;top:160.00px;transform:scaleX(1.0310)">Shutdown &amp; Republic...</span>
<span class="t pct" style="left:239.52px;top:160.00px;transform:scaleX(0.9408)">16%</span>
<span class="t foot" style="left:34.50px;top:209.00px;transform:scaleX(1.0906)">$309K Vol.</span>
<span class="t title" style="left:488.75px;top:44.00px;transform:scaleX(1.0662)">Jeffrey Epstein</span>
<span class="t title" style="left:488.21px;top:68.00px;transform:scaleX(1.0741)">confirmed to be alive</span>
<span class="t title" style="left:487.96px;top:93.00px;transform:scaleX(1.0496)">before 2027?</span>
<span class="t g5" style="left:731.19px;top:61.00px;transform:scaleX(1.0182)">5%</span>
<span class="t chance" style="left:720.20px;top:84.00px;transform:scaleX(1.1815)">chance</span>
<span class="t byes" style="left:504.50px;top:160.00px;transform:scaleX(1.0370)">Yes</span>
<span class="t bno" style="left:688.41px;top:160.00px;transform:scaleX(1.0875)">No</span>
<span class="t foot" style="left:432.50px;top:208.00px;transform:scaleX(1.0377)">$1M Vol.</span>
<span class="t foot" style="left:526.77px;top:208.00px;transform:scaleX(1.0667)">Daily</span>
<span class="t title" style="left:87.70px;top:283.00px;transform:scaleX(1.0524)">Next Country US Strikes</span>
<span class="t label" style="left:32.23px;top:345.00px;transform:scaleX(1.0243)">Somalia</span>
<span class="t pct" style="left:233.98px;top:345.00px;transform:scaleX(1.0483)">99%</span>
<span class="t label" style="left:31.80px;top:388.00px;transform:scaleX(1.0679)">Iran</span>
<span class="t pct" style="left:236.27px;top:388.00px;transform:scaleX(0.9726)">&lt;1%</span>
<span class="t foot" style="left:33.00px;top:437.00px;transform:scaleX(1.0293)">$1M Vol.</span>
<span class="t foot" style="left:126.12px;top:437.00px;transform:scaleX(1.1070)">Monthly</span>
<span class="t title" style="left:488.43px;top:275.00px;transform:scaleX(1.0685)">How many people will Trump deport</span>
<span class="t title" style="left:488.70px;top:298.00px;transform:scaleX(1.0613)">in 2025?</span>
<span class="t label" style="left:432.95px;top:346.00px;transform:scaleX(1.0638)">&lt;250k</span>
<span class="t pct" style="left:645.22px;top:346.00px;transform:scaleX(1.0577)">3%</span>
<span class="t label" style="left:432.93px;top:389.00px;transform:scaleX(1.0944)">250-500k</span>
<span class="t pct" style="left:633.21px;top:389.00px;transform:scaleX(1.0897)">90%</span>
<span class="t foot" style="left:433.75px;top:439.00px;transform:scaleX(1.0328)">$12M Vol.</span>
<span class="t title" style="left:89.45px;top:499.00px;transform:scaleX(1.0472)">How long will the DHS</span>
<span class="t title" style="left:90.24px;top:524.00px;transform:scaleX(1.0588)">shutdown last?</span>
<span class="t label" style="left:33.45px;top:571.00px;transform:scaleX(1.0669)">7+ days</span>
<span class="t pct" style="left:225.73px;top:571.00px;transform:scaleX(1.0196)">100%</span>
<span class="t label" style="left:33.20px;top:614.00px;transform:scaleX(1.0436)">10+ days</span>
<span class="t pct" style="left:235.22px;top:614.00px;transform:scaleX(1.0579)">99%</span>
<span class="t foot" style="left:34.50px;top:663.00px;transform:scaleX(1.0302)">$616K Vol.</span>
<span class="t title" style="left:485.68px;top:512.00px;transform:scaleX(1.0659)">Presidential Election Winner 2028</span>
<span class="t label" style="left:430.49px;top:574.00px;transform:scaleX(1.0481)">JD Vance</span>
<span class="t pct" style="left:631.19px;top:574.00px;transform:scaleX(1.0764)">24%</span>
<span class="t label" style="left:429.97px;top:617.00px;transform:scaleX(1.0456)">Gavin Newsom</span>
<span class="t pct" style="left:635.81px;top:617.00px;transform:scaleX(0.9507)">17%</span>
<span class="t foot" style="left:430.75px;top:667.00px;transform:scaleX(1.1003)">$305M Vol.</span>
<span class="t yes" style="left:296.64px;top:117.00px;transform:scaleX(1.0337)">Yes</span>
<span class="t no" style="left:352.80px;top:117.00px;transform:scaleX(1.0795)">No</span>
<span class="t yes" style="left:296.64px;top:160.00px;transform:scaleX(1.0337)">Yes</span>
<span class="t no" style="left:352.80px;top:160.00px;transform:scaleX(1.0795)">No</span>
<span class="t yes" style="left:294.89px;top:345.00px;transform:scaleX(1.0337)">Yes</span>
<span class="t no" style="left:351.05px;top:345.00px;transform:scaleX(1.0795)">No</span>
<span class="t yes" style="left:294.89px;top:388.00px;transform:scaleX(1.0337)">Yes</span>
<span class="t no" style="left:351.05px;top:388.00px;transform:scaleX(1.0795)">No</span>
<span class="t yes" style="left:695.39px;top:347.00px;transform:scaleX(1.0337)">Yes</span>
<span class="t no" style="left:751.55px;top:347.00px;transform:scaleX(1.0795)">No</span>
<span class="t yes" style="left:695.39px;top:390.00px;transform:scaleX(1.0337)">Yes</span>
<span class="t no" style="left:751.55px;top:390.00px;transform:scaleX(1.0795)">No</span>
<span class="t yes" style="left:296.89px;top:571.00px;transform:scaleX(1.0337)">Yes</span>
<span class="t no" style="left:353.05px;top:571.00px;transform:scaleX(1.0795)">No</span>
<span class="t yes" style="left:296.89px;top:614.00px;transform:scaleX(1.0337)">Yes</span>
<span class="t no" style="left:353.05px;top:614.00px;transform:scaleX(1.0795)">No</span>
<span class="t yes" style="left:692.89px;top:575.00px;transform:scaleX(1.0337)">Yes</span>
<span class="t no" style="left:749.05px;top:575.00px;transform:scaleX(1.0795)">No</span>
<span class="t yes" style="left:692.89px;top:618.00px;transform:scaleX(1.0337)">Yes</span>
<span class="t no" style="left:749.05px;top:618.00px;transform:scaleX(1.0795)">No</span>
<svg class="ic" style="left:357px;top:169px" width="22" height="26" viewBox="0 0 22 26"><defs><filter id="cs" x="-30%" y="-30%" width="160%" height="160%"><feGaussianBlur stdDeviation="0.9"/></filter></defs><path d="M3.900 2.600V18.400l3.700-3.300 2.500 6.100 2.700-1.100-2.500-6h4.800z" transform="translate(0.4 1.2)" fill="#000" opacity=".35" filter="url(#cs)"/><path d="M3.900 2.300V18.300l3.700-3.300 2.500 6.100 2.700-1.100-2.500-6h4.800z" fill="#000" stroke="#fff" stroke-width="2.300" stroke-linejoin="round" paint-order="stroke"/></svg>
</body></html>
